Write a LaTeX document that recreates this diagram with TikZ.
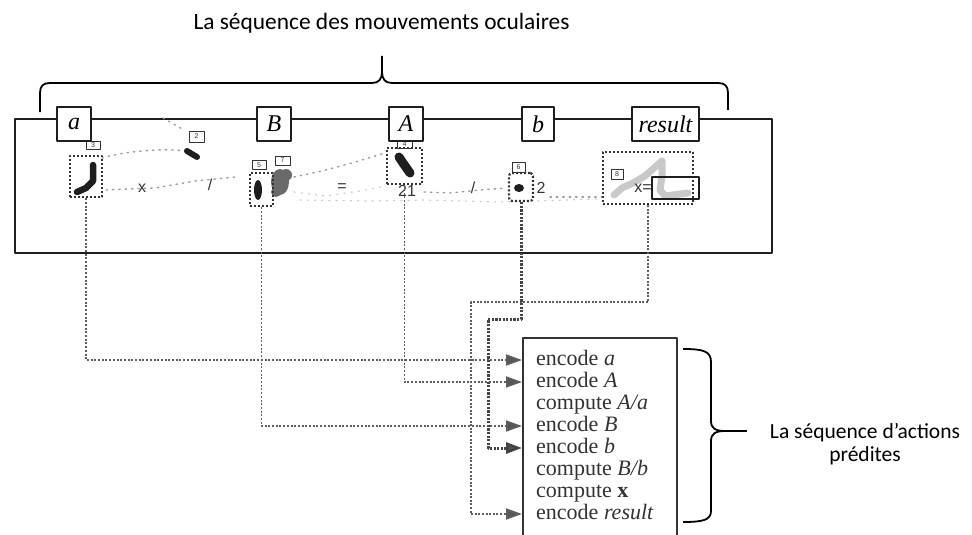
\documentclass[tikz,border=0pt]{standalone}
\usepackage{fontspec}
\setmainfont{Liberation Serif}
\newfontfamily\capfont{Carlito}
\newfontfamily\scrfont{Liberation Sans}
\usetikzlibrary{arrows.meta}
\definecolor{ink}{HTML}{1E1E1E}
\definecolor{boxink}{HTML}{333333}
\definecolor{conncol}{HTML}{5E5E5E}
\definecolor{conndark}{HTML}{444444}
\definecolor{blobgray}{HTML}{6A6A6A}
\definecolor{lightblob}{HTML}{C9C9C9}
\definecolor{scancol}{HTML}{9C9C9C}
\definecolor{headcol}{HTML}{555555}
\tikzset{
  lbl/.style={draw=ink, line width=1.4pt, fill=white, inner sep=0pt,
    minimum height=34pt, font=\fontsize{24}{24}\selectfont\itshape},
  fixbox/.style={draw=boxink, line width=2.2pt, dash pattern=on 2pt off 2pt, inner sep=0pt},
  tagbox/.style={draw=boxink, line width=0.8pt, fill=white, inner sep=0pt,
    font=\scrfont\fontsize{7}{7}\selectfont, text=boxink},
  seqtxt/.style={font=\scrfont\fontsize{16}{16}\selectfont, text=boxink, inner sep=0pt},
  actline/.style={anchor=west, inner xsep=14pt, inner ysep=0pt, text height=14pt,
    text depth=4pt, font=\fontsize{22}{22}\selectfont, text=boxink},
  tip/.style={-{Triangle[length=16pt,width=11pt,fill=headcol]}},
  conn/.style={draw=conncol, line width=1.8pt, dash pattern=on 2pt off 1.7pt, tip},
  connthick/.style={draw=conndark, line width=3pt, dash pattern=on 2.2pt off 1.4pt, tip},
  connmed/.style={draw=conncol, line width=2pt, dash pattern=on 2pt off 1.6pt, tip},
  scan/.style={draw=scancol, line width=1.4pt, dash pattern=on 1.4pt off 5pt, line cap=round},
  scanlight/.style={draw=scancol!55, line width=1.2pt, dash pattern=on 1.2pt off 6pt, line cap=round},
  brace/.style={draw=black, line width=1.8pt},
  captxt/.style={font=\capfont\fontsize{21.5}{23}\selectfont, text=black, inner sep=0pt, anchor=base}
}
\begin{document}
\begin{tikzpicture}[x=1pt,y=-1pt,line join=round]
\useasboundingbox (0,0) rectangle (972,535);
% frame
\node[draw=ink, line width=1.5pt, minimum width=757pt, minimum height=134pt, anchor=north west, inner sep=0pt] (frame) at (14,118) {};
% top brace
\draw[brace] (40,112) -- (40,93) .. controls (40,86) and (43,83) .. (50,83) -- (372,83)
  .. controls (379,83) and (382,79) .. (382,72) -- (382,56);
\draw[brace] (382,72) .. controls (382,79) and (385,83) .. (392,83) -- (718,83)
  .. controls (725,83) and (728,86) .. (728,93) -- (728,110);
\node[captxt, font=\capfont\fontsize{23.4}{24}\selectfont] (ttop) at (381.5,30) {La séquence des mouvements oculaires};
% small tags
\node[tagbox, minimum width=14pt, minimum height=8pt] (t3) at (93,145) {3};
\node[tagbox, minimum width=15pt, minimum height=11pt] (t2) at (196.5,136.5) {2};
\node[tagbox, minimum width=14pt, minimum height=9pt] (t5) at (259,165) {5};
\node[tagbox, minimum width=15pt, minimum height=9pt] (t7) at (282.5,160.5) {7};
\node[tagbox, minimum width=15pt, minimum height=9pt] (t4) at (404.5,144) {4};
\node[tagbox, minimum width=13pt, minimum height=10pt] (t6) at (518.5,167) {6};
\node[tagbox, minimum width=12pt, minimum height=10pt] (t8) at (617,174) {8};
% label boxes on the frame
\node[lbl, minimum width=34pt] (la0) at (74,124) {a};
\node[lbl, minimum width=34pt] (lB0) at (274,124) {B};
\node[lbl, minimum width=34pt] (lA0) at (406,124) {A};
\node[lbl, minimum width=32pt] (lb0) at (538,124) {b};
\node[lbl, minimum width=67pt] (lr0) at (665.5,124) {result};
% scan path
\draw[scan] (102,158) .. controls (125,151) and (165,148) .. (184,151);
\draw[scan] (163,118) -- (184,130);
\draw[scan] (106,190) -- (128,189) -- (155,188) -- (172,185) -- (195,181) -- (236,177);
\draw[scan] (294,177) -- (322,171) -- (352,163) -- (385,153);
\draw[scanlight] (294,192) -- (325,196) -- (360,191) -- (386,186);
\draw[scanlight] (300,200) -- (370,201) -- (425,200) -- (500,202) -- (600,199);
\draw[scan] (424,192) -- (450,193) -- (480,190) -- (506,188);
\draw[scan] (550,197) -- (603,197);
% blobs
\draw[ink, line width=6.5pt, line cap=round] (93,165) -- (93,181) -- (86,188) -- (77,192);
\draw[ink, line width=6pt, line cap=round] (187,151) -- (197,157);
\fill[ink] (258,190) ellipse [x radius=4, y radius=10];
\fill[blobgray] (280,182) ellipse [x radius=9, y radius=13];
\fill[blobgray] (286,175) circle (6);
\fill[blobgray] (276,192) circle (5);
\draw[ink, line width=9pt, line cap=round] (399,157) -- (403,163) -- (410,173);
\fill[ink] (519,188) ellipse [x radius=5, y radius=4];
\draw[lightblob, line width=7pt, line cap=round] (614,195) -- (622,188) -- (633,183) -- (645,176) -- (655,167) -- (662,161) -- (662,176) -- (660,190) -- (665,196) -- (688,193);
% fixation boxes
\node[fixbox, minimum width=32pt, minimum height=41pt] (f3) at (86,176.5) {};
\node[fixbox, minimum width=23pt, minimum height=33pt] (f5) at (261.5,189.5) {};
\node[fixbox, minimum width=35pt, minimum height=36pt] (f4) at (404.5,166) {};
\node[fixbox, minimum width=24pt, minimum height=28pt, rounded corners=3pt] (f6) at (521,187) {};
\node[fixbox, minimum width=90pt, minimum height=52pt] (f8) at (648,178) {};
\node[draw=ink, line width=1.3pt, minimum width=47pt, minimum height=22pt, inner sep=0pt] (ans) at (675.5,188) {};
% equation characters
\node[seqtxt] (sx) at (142,188) {x};
\node[seqtxt] (ss1) at (210,185) {/};
\node[seqtxt] (seq) at (342,188) {=};
\node[seqtxt] (s21) at (407,191) {21};
\node[seqtxt] (ss2) at (473,188) {/};
\node[seqtxt] (s2) at (541,188) {2};
\node[seqtxt] (sxe) at (643,188) {x=};
% action box
\node[draw=boxink, line width=1.5pt, fill=white, minimum width=154pt, minimum height=210pt, anchor=north west, inner sep=0pt] (actbox) at (522,337) {};
\node[actline] (la) at (522,360) {encode \textit{a}};
\node[actline] (lA) at (522,382) {encode \textit{A}};
\node[actline] (lAa) at (522,404) {compute \textit{A/a}};
\node[actline] (lB) at (522,426) {encode \textit{B}};
\node[actline] (lb) at (522,448) {encode \textit{b}};
\node[actline] (lBb) at (522,470) {compute \textit{B/b}};
\node[actline] (lx) at (522,492) {compute \textbf{x}};
\node[actline] (lr) at (522,514) {encode \textit{result}};
% bend points
\coordinate (kb) at (488,319);
\coordinate (kr) at (471,302);
% connectors
\draw[conn] (f3.south) |- (la.west);
\draw[conn] (f5.south) |- (lB.west);
\draw[conn] (f4.south) |- (lA.west);
\draw[connmed] (f8.south) |- (kr) |- (lr.west);
\draw[connthick] (f6.south) |- (kb) |- (lb.west);
% right brace
\draw[brace] (683,349) .. controls (703,349) and (711,351) .. (711,362) -- (711,421)
  .. controls (711,428) and (715,431) .. (725,431);
\draw[brace] (725,431) .. controls (715,431) and (711,434) .. (711,441) -- (711,511)
  .. controls (711,520) and (703,522) .. (683,522);
\coordinate (btip) at (725,431);
\node[captxt] (tr1) at (865,438) {La séquence d’actions};
\node[captxt] (tr2) at (865,461) {prédites};
\draw[brace] (btip) -- (747,431);
\end{tikzpicture}
\end{document}
